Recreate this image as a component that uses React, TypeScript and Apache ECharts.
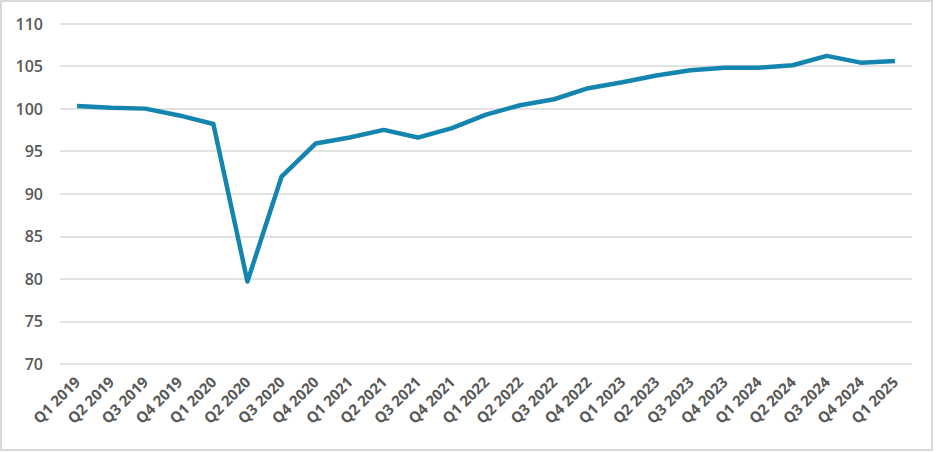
import React, { useEffect, useRef } from "react";
import * as echarts from "echarts";

const categories = [
  "Q1 2019", "Q2 2019", "Q3 2019", "Q4 2019",
  "Q1 2020", "Q2 2020", "Q3 2020", "Q4 2020",
  "Q1 2021", "Q2 2021", "Q3 2021", "Q4 2021",
  "Q1 2022", "Q2 2022", "Q3 2022", "Q4 2022",
  "Q1 2023", "Q2 2023", "Q3 2023", "Q4 2023",
  "Q1 2024", "Q2 2024", "Q3 2024", "Q4 2024",
  "Q1 2025",
];

const values = [
  100.3, 100.1, 100.0, 99.2,
  98.2, 79.7, 92.0, 95.9,
  96.6, 97.5, 96.6, 97.7,
  99.3, 100.4, 101.1, 102.4,
  103.1, 103.9, 104.5, 104.8,
  104.8, 105.1, 106.2, 105.4,
  105.6,
];

const yMin = 70;
const yMax = 110;
const yStep = 5;

export default function App() {
  const ref = useRef<HTMLDivElement>(null);
  useEffect(() => {
    if (!ref.current) return;
    const chart = echarts.init(ref.current, undefined, { renderer: "svg" });
    const font = "'Open Sans', 'Liberation Sans', Arial, sans-serif";
    chart.setOption({
      animation: false,
      backgroundColor: "#ffffff",
      grid: { left: 60, right: 24, top: 23.5, bottom: 89, containLabel: false },
      graphic: [
        {
          type: "rect",
          shape: { x: 1, y: 1, width: 931, height: 449 },
          style: { fill: "none", stroke: "#D9D9D9", lineWidth: 2 },
          silent: true,
        },
      ],
      xAxis: {
        type: "category",
        data: categories,
        boundaryGap: true,
        axisLine: { show: false },
        axisTick: { show: false },
        axisLabel: {
          rotate: 45,
          interval: 0,
          margin: 15,
          color: "#595959",
          fontSize: 15,
          fontWeight: "bold",
          fontFamily: font,
        },
        splitLine: { show: false },
      },
      yAxis: {
        type: "value",
        min: yMin,
        max: yMax,
        interval: yStep,
        axisLine: { show: false },
        axisTick: { show: false },
        axisLabel: {
          margin: 17,
          color: "#595959",
          fontSize: 16,
          fontWeight: 600,
          fontFamily: font,
        },
        splitLine: { lineStyle: { color: "#D9D9D9", width: 1.5 } },
      },
      series: [
        {
          type: "line",
          data: values,
          symbol: "none",
          lineStyle: { color: "#1385AF", width: 4.5, join: "round" },
          itemStyle: { color: "#1385AF" },
        },
      ],
    });
    return () => chart.dispose();
  }, []);
  return (
    <div
      ref={ref}
      style={{ position: "absolute", left: 0, top: 0, width: 936, height: 453 }}
    />
  );
}
